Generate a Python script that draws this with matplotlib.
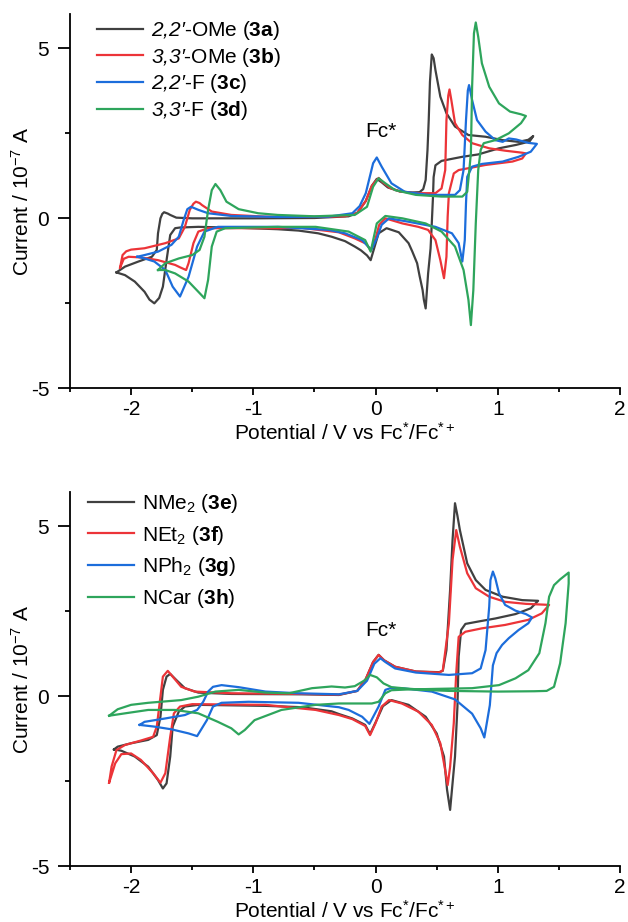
import matplotlib
matplotlib.use('Agg')
import matplotlib.pyplot as plt

# ---------------- data (potential in V vs Fc*/Fc*+, current in 1e-7 A) ----------------
# Top panel
top_3a_v = [-2.12, -2.05, -1.94, -1.83, -1.79, -1.78, -1.76, -1.745, -1.73, -1.70, -1.68, -1.63, -1.50, -1.00, -0.50,
            -0.22, -0.15, -0.08, -0.03, 0.01, 0.05, 0.10, 0.20, 0.30, 0.36, 0.39, 0.41, 0.425, 0.435, 0.445, 0.46,
            0.475, 0.49, 0.53, 0.58, 0.65, 0.76, 0.90, 1.04, 1.17, 1.25, 1.29,
            1.26, 1.15, 1.01, 0.84, 0.71, 0.54, 0.49, 0.475, 0.47, 0.46, 0.45, 0.43, 0.41, 0.395, 0.385, 0.36, 0.34,
            0.30, 0.27, 0.19, 0.09, 0.025, 0.00, -0.04, -0.07, -0.12, -0.17, -0.25, -0.36, -0.47, -0.63, -0.80, -1.10,
            -1.45, -1.60, -1.64, -1.68, -1.71, -1.74, -1.77, -1.81, -1.85, -1.89, -1.97, -2.05, -2.12]
top_3a_i = [-1.60, -1.43, -1.28, -1.14, -0.94, -0.45, -0.01, 0.12, 0.17, 0.13, 0.09, 0.01, -0.01, -0.01, 0.00,
            0.05, 0.15, 0.50, 0.95, 1.15, 1.05, 0.90, 0.78, 0.75, 0.76, 0.85, 1.12, 2.00, 2.88, 4.00, 4.81,
            4.70, 4.35, 3.57, 3.08, 2.69, 2.44, 2.39, 2.29, 2.24, 2.30, 2.41,
            2.25, 2.15, 2.05, 1.87, 1.80, 1.68, 1.55, 1.20, 0.63, -0.16, -0.90, -1.63, -2.66, -2.40, -2.12, -1.70, -1.33,
            -0.98, -0.74, -0.42, -0.30, -0.45, -0.75, -1.24, -1.10, -0.95, -0.84, -0.68, -0.55, -0.45, -0.37, -0.33, -0.29,
            -0.26, -0.28, -0.30, -0.50, -1.24, -2.02, -2.35, -2.51, -2.40, -2.17, -1.87, -1.68, -1.60]

top_3b_v = [-2.09, -2.07, -2.04, -2.00, -1.89, -1.72, -1.61, -1.56, -1.52, -1.49, -1.47, -1.44, -1.42, -1.34, -1.18,
            -0.90, -0.50, -0.25, -0.15, -0.08, -0.03, 0.025, 0.06, 0.12, 0.20, 0.33, 0.49, 0.54, 0.57, 0.58, 0.595,
            0.605, 0.62, 0.65, 0.71, 0.79, 0.93, 1.06, 1.20, 1.23,
            1.20, 1.12, 0.90, 0.68, 0.64, 0.60, 0.59, 0.58, 0.56, 0.53, 0.49, 0.43, 0.35, 0.22, 0.08, 0.03, 0.00,
            -0.04, -0.08, -0.17, -0.30, -0.63, -0.80, -1.37, -1.45, -1.49, -1.53, -1.55, -1.60, -1.64, -1.78, -1.92,
            -2.02, -2.06, -2.09]
top_3b_i = [-1.46, -1.09, -0.98, -0.93, -0.89, -0.74, -0.60, -0.26, 0.24, 0.42, 0.48, 0.44, 0.38, 0.19, 0.09,
            0.04, 0.03, 0.05, 0.15, 0.50, 0.95, 1.18, 1.05, 0.88, 0.78, 0.73, 0.73, 0.87, 1.41, 2.88, 3.60,
            3.78, 3.47, 2.79, 2.44, 2.20, 2.05, 1.98, 1.92, 1.90,
            1.75, 1.66, 1.56, 1.41, 1.31, 0.73, 0.04, -1.14, -1.77, -1.24, -0.65, -0.35, -0.26, -0.16, -0.01, -0.20, -0.60,
            -0.94, -0.75, -0.60, -0.42, -0.28, -0.30, -0.30, -0.40, -0.74, -1.33, -1.53, -1.45, -1.38, -1.24, -1.16,
            -1.14, -1.20, -1.46]

top_3c_v = [-1.95, -1.89, -1.78, -1.67, -1.61, -1.57, -1.54, -1.51, -1.45, -1.37, -1.18, -0.80, -0.385, -0.19, -0.13,
            -0.08, -0.02, 0.01, 0.05, 0.13, 0.24, 0.43, 0.65, 0.69, 0.72, 0.74, 0.755, 0.765, 0.79, 0.83, 0.90, 0.98,
            1.04, 1.09, 1.15, 1.25, 1.32,
            1.27, 1.17, 1.04, 0.87, 0.79, 0.75, 0.74, 0.73, 0.71, 0.68, 0.625, 0.49, 0.27, 0.11, 0.05, 0.01, -0.035,
            -0.11, -0.25, -0.385, -0.80, -1.29, -1.40, -1.46, -1.53, -1.60, -1.66, -1.72, -1.81, -1.89, -1.95]
top_3c_i = [-1.14, -1.09, -0.99, -0.79, -0.55, -0.06, 0.26, 0.33, 0.24, 0.14, 0.06, 0.03, 0.04, 0.14, 0.35,
            0.73, 1.61, 1.78, 1.51, 1.02, 0.77, 0.68, 0.68, 0.82, 1.41, 2.88, 3.75, 3.91, 3.47, 2.88, 2.54, 2.29,
            2.24, 2.34, 2.31, 2.21, 2.18,
            1.95, 1.80, 1.66, 1.59, 1.51, 1.21, 0.43, -0.65, -1.28, -0.74, -0.45, -0.26, -0.11, -0.01, -0.20, -0.60, -0.94,
            -0.65, -0.45, -0.35, -0.26, -0.26, -0.40, -0.84, -1.73, -2.31, -2.02, -1.53, -1.28, -1.19, -1.14]

top_3d_v = [-1.78, -1.72, -1.61, -1.50, -1.44, -1.40, -1.37, -1.34, -1.31, -1.27, -1.22, -1.12, -0.96, -0.80, -0.50,
            -0.17, -0.07, -0.02, 0.025, 0.08, 0.16, 0.33, 0.54, 0.71, 0.75, 0.78, 0.79, 0.805, 0.82, 0.84, 0.87,
            0.93, 1.01, 1.10, 1.19, 1.23,
            1.19, 1.09, 0.98, 0.885, 0.86, 0.84, 0.82, 0.80, 0.78, 0.76, 0.72, 0.65, 0.54, 0.41, 0.22, 0.08, 0.01,
            -0.04, -0.085, -0.22, -0.49, -0.80, -1.23, -1.30, -1.34, -1.37, -1.40, -1.45, -1.53, -1.64, -1.72, -1.78]
top_3d_i = [-1.53, -1.33, -1.19, -1.09, -0.94, -0.55, 0.24, 0.82, 1.00, 0.82, 0.48, 0.26, 0.14, 0.09, 0.05,
            0.09, 0.33, 0.92, 1.17, 1.02, 0.82, 0.68, 0.63, 0.63, 0.77, 1.90, 3.86, 5.43, 5.75, 5.33, 4.55,
            3.86, 3.37, 3.13, 3.05, 3.00,
            2.79, 2.49, 2.29, 2.20, 2.00, 1.41, -0.16, -2.12, -3.15, -2.41, -1.53, -0.84, -0.40, -0.16, -0.01, 0.06, -0.16,
            -0.99, -0.65, -0.40, -0.26, -0.26, -0.30, -0.40, -0.84, -1.82, -2.36, -2.17, -1.87, -1.63, -1.53, -1.53]

# Bottom panel
bot_3e_v = [-2.14, -2.11, -2.00, -1.86, -1.79, -1.76, -1.74, -1.71, -1.68, -1.63, -1.56, -1.45, -1.18, -0.60, -0.30,
            -0.15, -0.08, -0.02, 0.025, 0.07, 0.16, 0.33, 0.52, 0.55, 0.58, 0.61, 0.63, 0.65, 0.67, 0.69, 0.75, 0.82,
            0.90, 1.04, 1.20, 1.33,
            1.27, 1.145, 0.98, 0.84, 0.735, 0.70, 0.68, 0.67, 0.65, 0.625, 0.61, 0.585, 0.56, 0.50, 0.41, 0.27, 0.13,
            0.06, 0.01, -0.045, -0.085, -0.19, -0.30, -0.36, -0.60, -0.90, -1.45, -1.56, -1.61, -1.66, -1.68, -1.71,
            -1.74, -1.78, -1.86, -1.97, -2.08, -2.14]
bot_3e_i = [-1.57, -1.49, -1.39, -1.29, -1.15, -0.61, 0.18, 0.57, 0.65, 0.47, 0.23, 0.10, 0.06, 0.05, 0.03,
            0.15, 0.50, 1.00, 1.21, 1.05, 0.86, 0.72, 0.70, 0.74, 1.35, 3.12, 4.59, 5.67, 5.30, 4.88, 3.90, 3.41,
            3.12, 2.92, 2.82, 2.80,
            2.58, 2.41, 2.28, 2.19, 2.12, 1.94, 1.16, -0.31, -1.78, -2.76, -3.35, -2.76, -1.78, -1.10, -0.61, -0.26, -0.12,
            -0.30, -0.70, -1.12, -0.85, -0.66, -0.53, -0.45, -0.33, -0.29, -0.26, -0.31, -0.46, -0.90, -1.78, -2.57,
            -2.72, -2.47, -2.08, -1.78, -1.61, -1.57]

bot_3f_v = [-2.18, -2.16, -2.12, -2.05, -1.92, -1.82, -1.79, -1.76, -1.74, -1.70, -1.66, -1.59, -1.48, -1.18, -0.60,
            -0.30, -0.15, -0.08, -0.02, 0.025, 0.07, 0.16, 0.33, 0.52, 0.55, 0.57, 0.60, 0.63, 0.66, 0.69, 0.75, 0.82,
            0.93, 1.06, 1.23, 1.42,
            1.36, 1.25, 1.06, 0.87, 0.735, 0.68, 0.66, 0.64, 0.61, 0.59, 0.565, 0.53, 0.46, 0.35, 0.215, 0.11, 0.05,
            0.00, -0.045, -0.085, -0.19, -0.30, -0.49, -0.90, -1.50, -1.60, -1.65, -1.68, -1.72, -1.76, -1.82, -1.92,
            -2.00, -2.08, -2.13, -2.18]
bot_3f_i = [-2.55, -2.08, -1.59, -1.44, -1.31, -1.20, -0.90, -0.02, 0.57, 0.74, 0.57, 0.27, 0.13, 0.08, 0.06,
            0.04, 0.15, 0.50, 1.00, 1.21, 1.05, 0.86, 0.72, 0.69, 0.75, 1.30, 2.14, 4.00, 4.88, 4.39, 3.61, 3.17,
            2.92, 2.77, 2.71, 2.68,
            2.43, 2.24, 2.09, 1.99, 1.89, 1.74, 0.67, -0.80, -2.08, -2.62, -2.08, -1.39, -0.85, -0.46, -0.22, -0.12, -0.31,
            -0.80, -1.15, -0.88, -0.68, -0.56, -0.41, -0.26, -0.24, -0.31, -0.51, -1.20, -2.27, -2.55, -2.27, -1.88,
            -1.69, -1.71, -1.98, -2.55]

bot_3g_v = [-1.93, -1.89, -1.72, -1.56, -1.46, -1.41, -1.37, -1.33, -1.26, -1.12, -0.90, -0.63, -0.30, -0.15, -0.07,
            -0.01, 0.04, 0.08, 0.16, 0.33, 0.60, 0.79, 0.86, 0.90, 0.93, 0.94, 0.96, 0.98, 1.01, 1.06, 1.145, 1.23, 1.28,
            1.25, 1.17, 1.09, 1.035, 0.99, 0.96, 0.935, 0.89, 0.86, 0.79, 0.65, 0.46, 0.24, 0.13, 0.08, 0.025, -0.05,
            -0.11, -0.22, -0.30, -0.63, -1.04, -1.26, -1.33, -1.38, -1.46, -1.53, -1.67, -1.81, -1.93]
bot_3g_i = [-0.85, -0.76, -0.66, -0.56, -0.41, -0.17, 0.13, 0.27, 0.32, 0.26, 0.13, 0.08, 0.05, 0.15, 0.45,
            0.95, 1.11, 1.00, 0.81, 0.69, 0.62, 0.67, 0.81, 1.35, 2.63, 3.41, 3.66, 3.46, 3.02, 2.68, 2.51, 2.41, 2.31,
            2.14, 1.94, 1.70, 1.50, 1.26, 0.90, -0.27, -1.22, -0.95, -0.52, -0.10, 0.13, 0.22, 0.24, 0.18, -0.31, -0.82,
            -0.61, -0.41, -0.33, -0.20, -0.17, -0.20, -0.31, -0.71, -1.18, -1.10, -0.98, -0.90, -0.85]

bot_3h_v = [-2.18, -2.11, -2.00, -1.86, -1.59, -1.45, -1.31, -1.12, -0.90, -0.71, -0.52, -0.36, -0.25, -0.17, -0.085,
            -0.045, 0.01, 0.065, 0.13, 0.25, 0.40, 0.60, 1.00, 1.30, 1.40, 1.46, 1.51, 1.555, 1.58, 1.58,
            1.51, 1.46, 1.42, 1.39, 1.34, 1.25, 1.145, 1.01, 0.79, 0.50, 0.25, 0.13, 0.08, 0.025, -0.03, -0.30, -0.49,
            -0.77, -0.99, -1.07, -1.12, -1.18, -1.29, -1.45, -1.64, -1.86, -2.05, -2.18]
bot_3h_i = [-0.58, -0.39, -0.26, -0.20, -0.12, -0.02, 0.13, 0.18, 0.10, 0.08, 0.23, 0.28, 0.25, 0.29, 0.47,
            0.62, 0.55, 0.37, 0.26, 0.22, 0.18, 0.15, 0.13, 0.14, 0.15, 0.27, 0.96, 2.14, 3.31, 3.63,
            3.43, 3.26, 2.92, 2.14, 1.26, 0.76, 0.52, 0.32, 0.23, 0.21, 0.19, 0.17, 0.08, -0.17, -0.22, -0.22, -0.26,
            -0.41, -0.71, -1.00, -1.13, -0.95, -0.76, -0.51, -0.41, -0.41, -0.51, -0.58]

top_labels = ["$\\mathsf{2{,}2\u2032}$-OMe ($\\mathbf{3a}$)", "$\\mathsf{3{,}3\u2032}$-OMe ($\\mathbf{3b}$)",
              "$\\mathsf{2{,}2\u2032}$-F ($\\mathbf{3c}$)", "$\\mathsf{3{,}3\u2032}$-F ($\\mathbf{3d}$)"]
bot_labels = [r"NMe$_2$ ($\mathbf{3e}$)", r"NEt$_2$ ($\mathbf{3f}$)",
              r"NPh$_2$ ($\mathbf{3g}$)", r"NCar ($\mathbf{3h}$)"]
colors = ['#404040', '#ec3438', '#1c6ddb', '#2ea55c']

xmajor = [-2, -1, 0, 1, 2]
xminor = [-2.5, -1.5, -0.5, 0.5, 1.5]
ymajor = [-5, 0, 5]
yminor = [-2.5, 2.5]

# ---------------- style ----------------
plt.rcParams['font.family'] = ['Liberation Sans', 'DejaVu Sans']
plt.rcParams['mathtext.fontset'] = 'custom'
plt.rcParams['mathtext.rm'] = 'Liberation Sans'
plt.rcParams['mathtext.it'] = 'Liberation Sans:italic'
plt.rcParams['mathtext.sf'] = 'Liberation Sans:italic'
plt.rcParams['mathtext.bf'] = 'Liberation Sans:bold'
plt.rcParams['axes.unicode_minus'] = False

FS = 15
fig = plt.figure(figsize=(6.28, 9.22), dpi=100)
ax1 = fig.add_axes([70 / 628, 1 - 388 / 922, 550 / 628, 374 / 922])
ax2 = fig.add_axes([70 / 628, 1 - 866 / 922, 550 / 628, 374 / 922])

top_data = [(top_3a_v, top_3a_i), (top_3b_v, top_3b_i), (top_3c_v, top_3c_i), (top_3d_v, top_3d_i)]
bot_data = [(bot_3e_v, bot_3e_i), (bot_3f_v, bot_3f_i), (bot_3g_v, bot_3g_i), (bot_3h_v, bot_3h_i)]

for ax, data, labels, fcy, legx, legy, lsp in [(ax1, top_data, top_labels, 2.53, 0.049, 0.987, 0.18),
                                                (ax2, bot_data, bot_labels, 1.94, 0.033, 1.0, 0.42)]:
    for (v, i), lab, c in zip(data, labels, colors):
        ax.plot(v, i, color=c, lw=1.6, label=lab, solid_joinstyle='round')
    ax.set_xlim(-2.5, 2.0)
    ax.set_ylim(-5, 6)
    for s in ['top', 'right']:
        ax.spines[s].set_visible(False)
    for s in ['left', 'bottom']:
        ax.spines[s].set_linewidth(1.3)
    ax.set_xticks(xmajor)
    ax.set_xticks(xminor, minor=True)
    ax.set_yticks(ymajor)
    ax.set_yticks(yminor, minor=True)
    ax.tick_params(axis='x', which='major', length=4.7, width=1.3, labelsize=FS, pad=4)
    ax.tick_params(axis='x', which='minor', length=3.0, width=1.3)
    ax.tick_params(axis='y', which='major', length=9.0, width=1.3, labelsize=FS, pad=6)
    ax.tick_params(axis='y', which='minor', length=3.6, width=1.3)
    ax.set_xlabel(r"Potential / V vs Fc$^{*}$/Fc$^{*+}$", fontsize=FS)
    ax.set_ylabel(r"Current / 10$^{-7}$ A", fontsize=FS)
    ax.xaxis.set_label_coords(0.5, -0.09)
    ax.yaxis.set_label_coords(-0.067, 0.5)
    ax.text(0.04, fcy, "Fc*", fontsize=FS, ha='center', va='center')
    ax.legend(loc='upper left', bbox_to_anchor=(legx, legy), frameon=False, fontsize=FS,
              handlelength=2.2, handletextpad=0.4, labelspacing=lsp, borderpad=0, borderaxespad=0)

fig.savefig('out.png', dpi=100)
